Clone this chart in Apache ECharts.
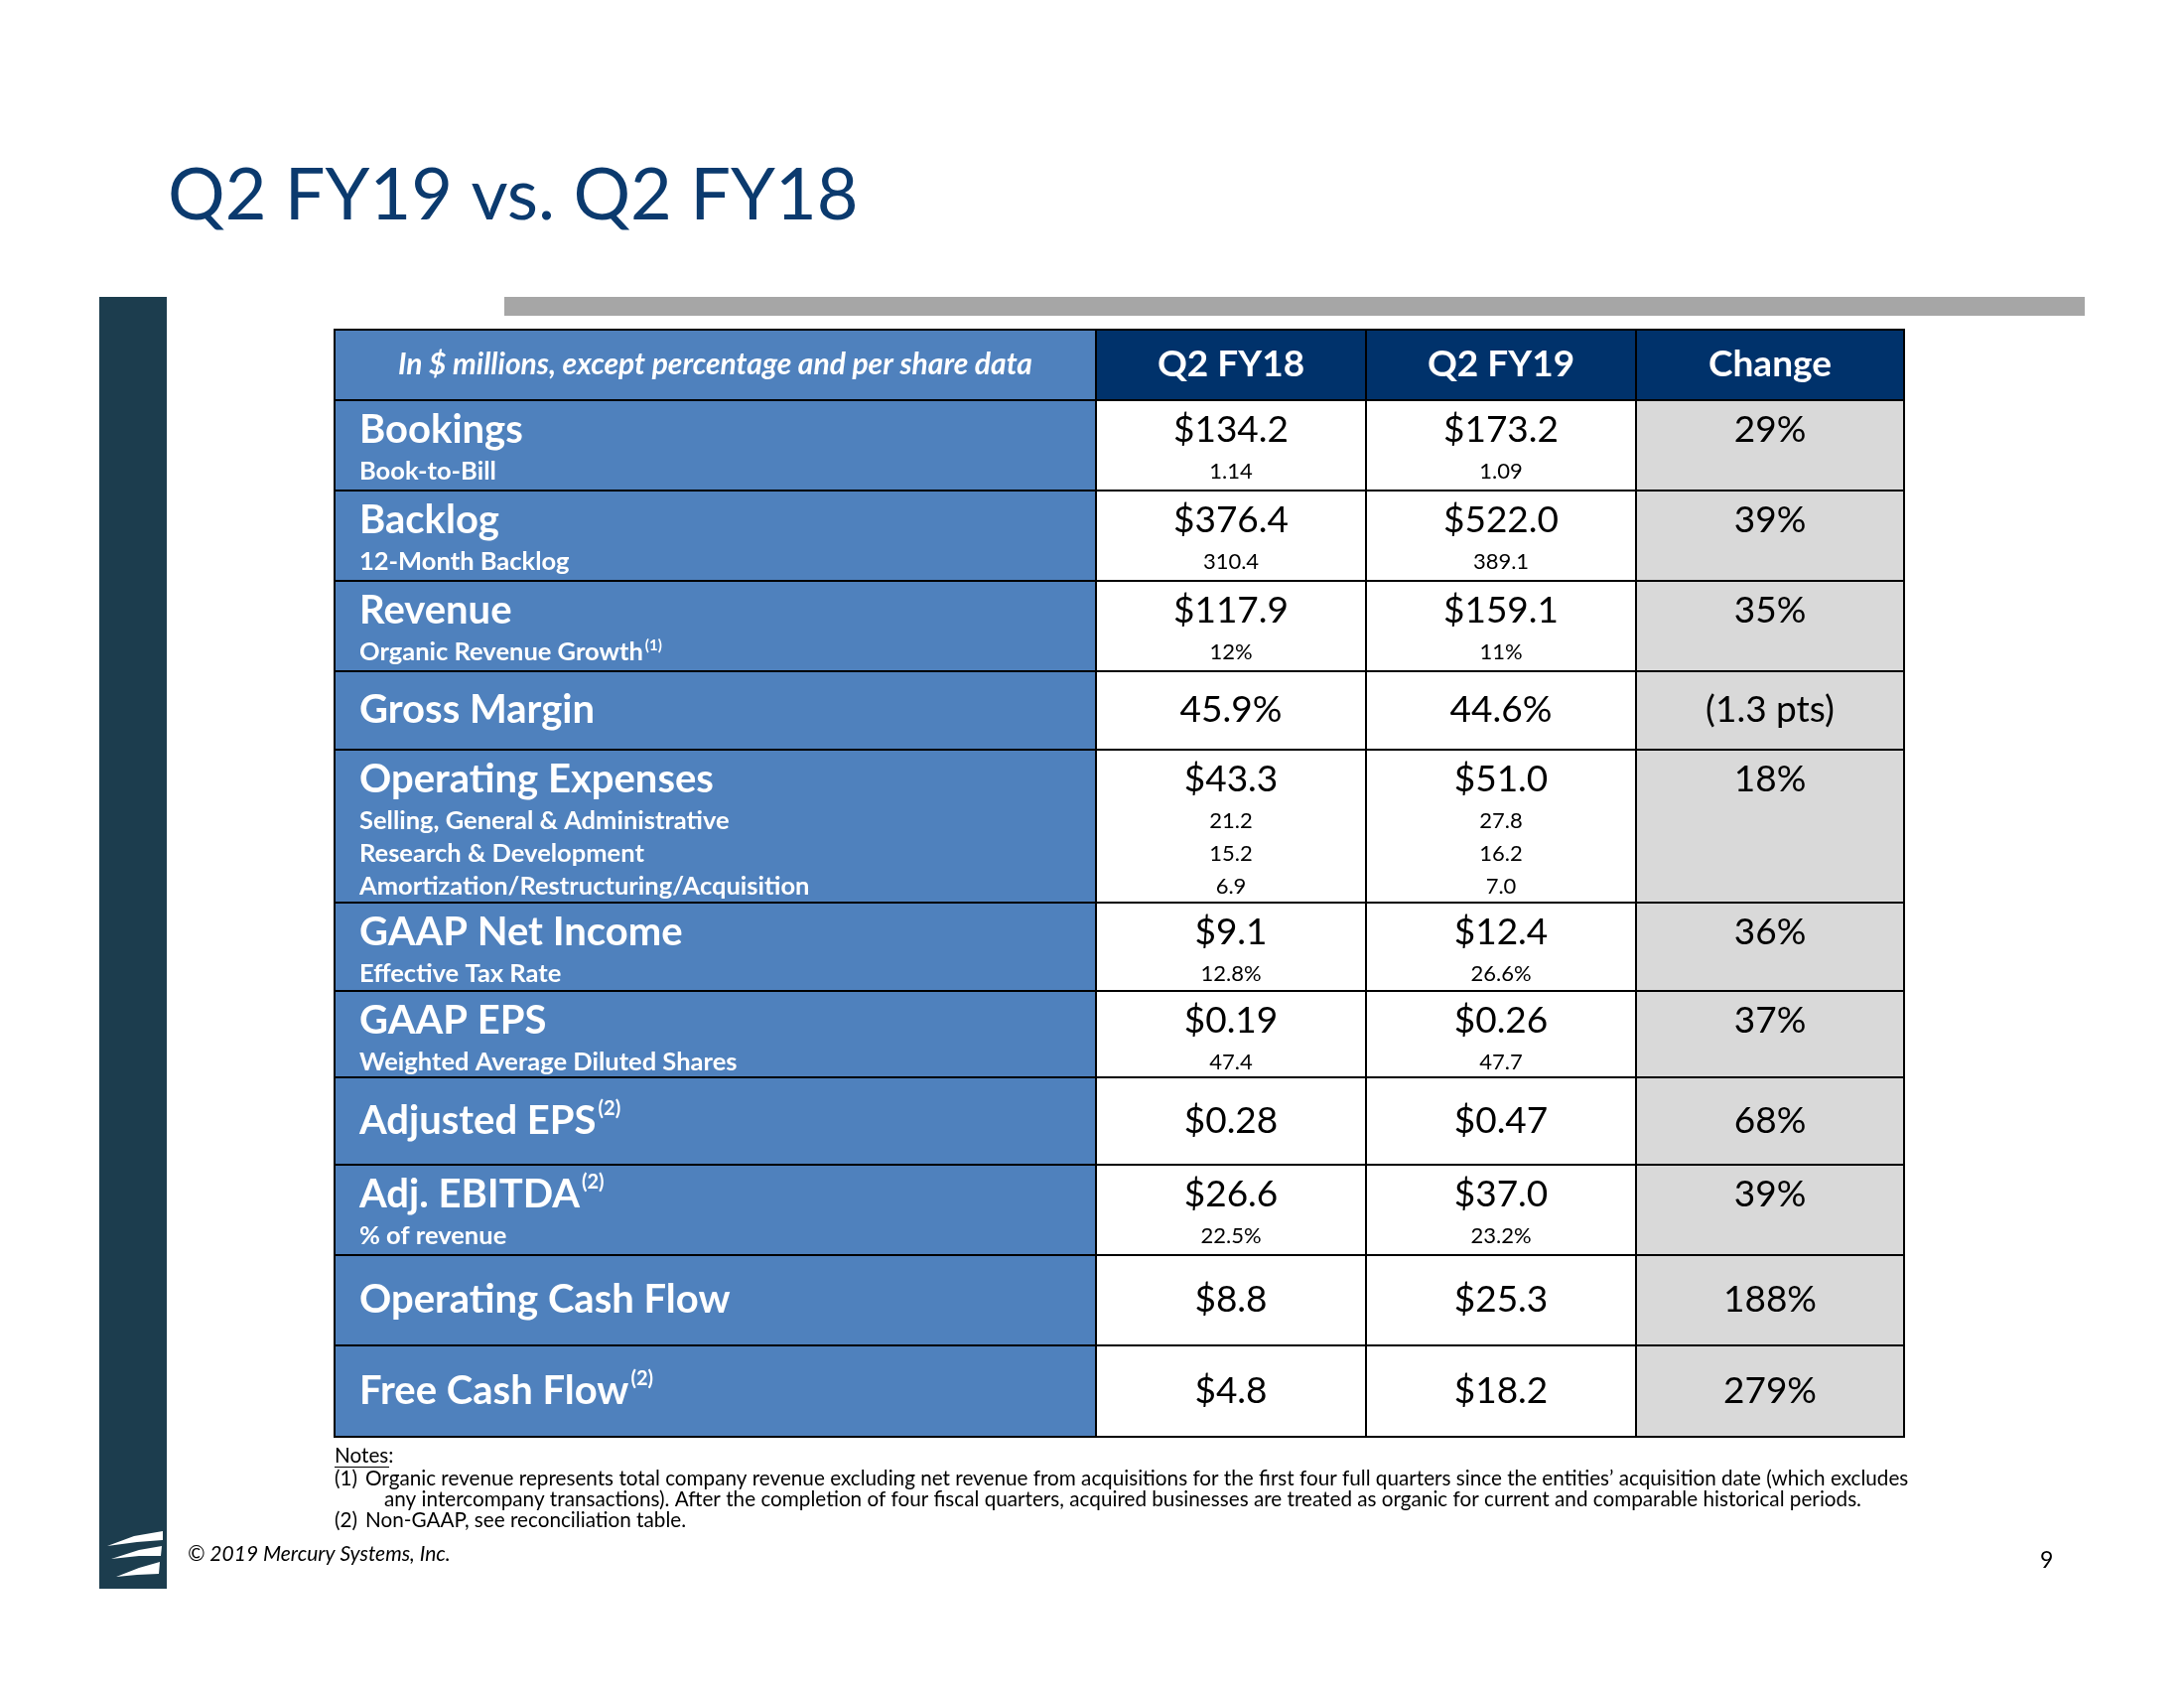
<!DOCTYPE html>
<html><head><meta charset="utf-8">
<script src="https://cdn.jsdelivr.net/npm/echarts@6/dist/echarts.min.js"></script>
<style>html,body{margin:0;padding:0;background:#fff}#c{width:2200px;height:1700px}</style>
</head><body><div id="c"></div>
<script>
// ---------- DATA ----------
const columnHeaders = ['In $ millions, except percentage and per share data', 'Q2 FY18', 'Q2 FY19', 'Change'];
const rowLabels = ['Bookings', 'Backlog', 'Revenue', 'Gross Margin', 'Operating Expenses', 'GAAP Net Income', 'GAAP EPS', 'Adjusted EPS', 'Adj. EBITDA', 'Operating Cash Flow', 'Free Cash Flow'];
const rowLabelNotes = ['', '', '', '', '', '', '', '(2)', '(2)', '', '(2)'];
const subLabels = [['Book-to-Bill'], ['12-Month Backlog'], ['Organic Revenue Growth'], [], ['Selling, General & Administrative', 'Research & Development', 'Amortization/Restructuring/Acquisition'], ['Effective Tax Rate'], ['Weighted Average Diluted Shares'], [], ['% of revenue'], [], []];
const subLabelNotes = [[''], [''], ['(1)'], [], ['', '', ''], [''], [''], [], [''], [], []];
const q2fy18 = ['$134.2', '$376.4', '$117.9', '45.9%', '$43.3', '$9.1', '$0.19', '$0.28', '$26.6', '$8.8', '$4.8'];
const q2fy18Sub = [['1.14'], ['310.4'], ['12%'], [], ['21.2', '15.2', '6.9'], ['12.8%'], ['47.4'], [], ['22.5%'], [], []];
const q2fy19 = ['$173.2', '$522.0', '$159.1', '44.6%', '$51.0', '$12.4', '$0.26', '$0.47', '$37.0', '$25.3', '$18.2'];
const q2fy19Sub = [['1.09'], ['389.1'], ['11%'], [], ['27.8', '16.2', '7.0'], ['26.6%'], ['47.7'], [], ['23.2%'], [], []];
const changeValues = ['29%', '39%', '35%', '(1.3 pts)', '18%', '36%', '37%', '68%', '39%', '188%', '279%'];
const slideTitle = 'Q2 FY19 vs. Q2 FY18';
const notes = ['(1) Organic revenue represents total company revenue excluding net revenue from acquisitions for the first four full quarters since the entities\u2019 acquisition date (which excludes',
  'any intercompany transactions). After the completion of four fiscal quarters, acquired businesses are treated as organic for current and comparable historical periods.',
  '(2) Non-GAAP, see reconciliation table.'];
const copyright = '\u00A9 2019 Mercury Systems, Inc.';
const pageNumber = '9';

// ---------- LAYOUT ----------
const ROW_H = [71, 91, 91, 91, 79, 154, 89, 87, 88, 91, 91, 92];
const COL_EDGES = [0, 767, 1039, 1311, 1581];
const TABLE = {left: 337, top: 332};
const FONT = 'Lato, "Open Sans", sans-serif';
const C_BLUE = '#4F81BD', C_NAVY = '#00326B', C_GRAY = '#D9D9D9', C_DARK = '#1C3D4E';

const rowTops = [0];
ROW_H.forEach(h => rowTops.push(rowTops[rowTops.length - 1] + h));
const tableH = rowTops[rowTops.length - 1];
const tableW = COL_EDGES[COL_EDGES.length - 1];

const chart = echarts.init(document.getElementById('c'), null, {renderer: 'canvas'});

function renderRow(params, api) {
  const r = api.value(0);
  const y0 = rowTops[r], y1 = rowTops[r + 1];
  const children = [];
  const isHeader = r === 0;
  const di = r - 1;
  const hasSub = !isHeader && subLabels[di].length > 0;
  for (let c = 0; c < 4; c++) {
    const p0 = api.coord([COL_EDGES[c], y0]);
    const p1 = api.coord([COL_EDGES[c + 1], y1]);
    let fill = '#ffffff';
    if (c === 0) fill = C_BLUE;
    else if (isHeader) fill = C_NAVY;
    else if (c === 3) fill = C_GRAY;
    children.push({type: 'rect', shape: {x: p0[0], y: p0[1], width: p1[0] - p0[0], height: p1[1] - p0[1]},
      style: {fill: fill, stroke: '#000', lineWidth: 2}});
  }
  const top = api.coord([0, y0])[1];
  const bot = api.coord([0, y1])[1];
  const mid = (top + bot) / 2;
  const mainY = hasSub ? top + 30 : mid;
  const cx = c => (api.coord([COL_EDGES[c], 0])[0] + api.coord([COL_EDGES[c + 1], 0])[0]) / 2;
  const lx = api.coord([COL_EDGES[0], 0])[0] + 25;
  if (isHeader) {
    children.push({type: 'text', style: {text: columnHeaders[0], x: cx(0), y: mid, align: 'center', verticalAlign: 'middle',
      fill: '#fff', font: 'italic bold 30px ' + FONT}});
    for (let c = 1; c < 4; c++) {
      children.push({type: 'text', style: {text: columnHeaders[c], x: cx(c), y: mid, align: 'center', verticalAlign: 'middle',
        fill: '#fff', font: 'bold 37px ' + FONT}});
    }
  } else {
    const note = rowLabelNotes[di];
    children.push({type: 'text', style: {
      text: '{m|' + rowLabels[di] + '}' + (note ? '{s|' + note + '}' : ''),
      rich: {m: {fontFamily: FONT, fontWeight: 'bold', fontSize: 40, fill: '#fff', lineHeight: 44},
             s: {fontFamily: FONT, fontWeight: 'bold', fontSize: 20, fill: '#fff', verticalAlign: 'top', lineHeight: 44, padding: [0, 0, 18, 2]}},
      x: lx, y: mainY, align: 'left', verticalAlign: 'middle'}});
    const vals = [q2fy18[di], q2fy19[di], changeValues[di]];
    vals.forEach((v, k) => children.push({type: 'text', style: {text: v, x: cx(k + 1), y: mainY, align: 'center', verticalAlign: 'middle',
      fill: '#000', font: '37px ' + FONT}}));
    subLabels[di].forEach((s, j) => {
      const sy = top + 72 + 33 * j;
      const sn = subLabelNotes[di][j];
      children.push({type: 'text', style: {
        text: '{m|' + s + '}' + (sn ? '{s|' + sn + '}' : ''),
        rich: {m: {fontFamily: FONT, fontWeight: 'bold', fontSize: 25.5, fill: '#fff', lineHeight: 28},
               s: {fontFamily: FONT, fontWeight: 'bold', fontSize: 15, fill: '#fff', verticalAlign: 'top', lineHeight: 28, padding: [0, 0, 10, 2]}},
        x: lx, y: sy, align: 'left', verticalAlign: 'middle'}});
      [q2fy18Sub[di][j], q2fy19Sub[di][j]].forEach((v, k) => children.push({type: 'text', style: {text: v, x: cx(k + 1), y: sy,
        align: 'center', verticalAlign: 'middle', fill: '#000', font: '22px ' + FONT}}));
    });
  }
  return {type: 'group', children: children};
}

const rowIndex = ROW_H.map((h, i) => [i]);

const NF = '20.7px ' + FONT;
const graphics = [
  {type: 'text', left: 169, top: 162, style: {text: slideTitle, fill: '#0B3A6E', font: '72px ' + FONT}},
  {type: 'rect', shape: {x: 100, y: 299, width: 68, height: 1301}, style: {fill: C_DARK}},
  {type: 'rect', shape: {x: 508, y: 299, width: 1592, height: 19}, style: {fill: '#A6A6A6'}},
  {type: 'polygon', shape: {points: [[108, 1557], [135, 1547], [164, 1542], [164, 1551], [138, 1553]]}, style: {fill: '#fff'}},
  {type: 'polygon', shape: {points: [[112, 1570], [140, 1561], [163, 1557], [162, 1567], [140, 1567]]}, style: {fill: '#fff'}},
  {type: 'polygon', shape: {points: [[117, 1588], [140, 1579], [161, 1573], [160, 1585], [138, 1586]]}, style: {fill: '#fff'}},
  {type: 'text', x: 337, y: 1456, style: {text: 'Notes:', fill: '#000', font: NF}},
  {type: 'line', shape: {x1: 337, y1: 1477.5, x2: 392, y2: 1477.5}, style: {stroke: '#000', lineWidth: 1}},
  {type: 'text', x: 337, y: 1479, style: {text: notes[0].slice(0, 3), fill: '#000', font: NF}},
  {type: 'text', x: 368, y: 1479, style: {text: notes[0].slice(4), fill: '#000', font: NF}},
  {type: 'text', x: 387, y: 1500, style: {text: notes[1], fill: '#000', font: NF}},
  {type: 'text', x: 337, y: 1521, style: {text: notes[2].slice(0, 3), fill: '#000', font: NF}},
  {type: 'text', x: 368, y: 1521, style: {text: notes[2].slice(4), fill: '#000', font: NF}},
  {type: 'text', x: 189, y: 1555, style: {text: copyright, fill: '#000', font: 'italic 21px ' + FONT}},
  {type: 'text', x: 2055, y: 1560, style: {text: pageNumber, fill: '#000', font: '23px ' + FONT}}
];

chart.setOption({
  animation: false,
  backgroundColor: '#fff',
  grid: {left: TABLE.left, top: TABLE.top, width: tableW, height: tableH, containLabel: false},
  xAxis: {type: 'value', min: 0, max: tableW, show: false},
  yAxis: {type: 'value', min: 0, max: tableH, inverse: true, show: false},
  series: [{type: 'custom', renderItem: renderRow, data: rowIndex, clip: false}],
  graphic: graphics
});
</script></body></html>
